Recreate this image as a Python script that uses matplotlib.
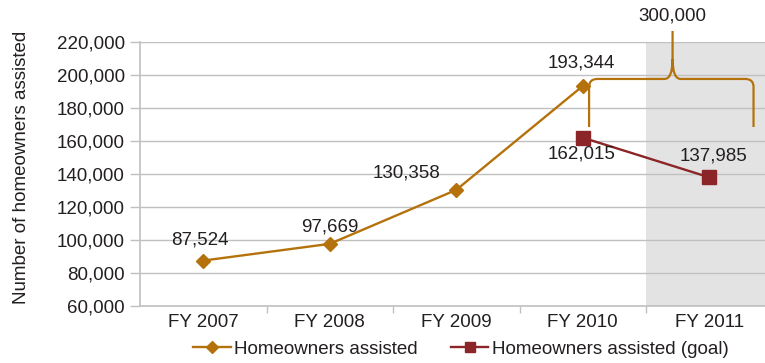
import numpy as np
import matplotlib.pyplot as plt
from matplotlib.path import Path
from matplotlib.patches import PathPatch
from matplotlib.ticker import FuncFormatter

years = ["FY 2007", "FY 2008", "FY 2009", "FY 2010", "FY 2011"]
assisted = [87524, 97669, 130358, 193344]
goal_years = ["FY 2010", "FY 2011"]
goal = [162015, 137985]
combined_label = "300,000"

ORANGE = "#b5720c"
RED = "#8b2528"
GRID = "#c0c0c0"
TEXT = "#231f20"

plt.rcParams["font.family"] = ["Liberation Sans", "DejaVu Sans"]
plt.rcParams["font.size"] = 13.5
plt.rcParams["text.color"] = TEXT

fig = plt.figure(figsize=(7.65, 3.63), dpi=100)
ax = fig.add_axes([140 / 765, 1 - 306 / 363, 632.5 / 765, 264 / 363])

x_all = np.arange(len(years))
x_act = [years.index(y) for y in years[:len(assisted)]]
x_goal = [years.index(y) for y in goal_years]

# projected year shading
ax.axvspan(3.5, 4.5, color="#e3e3e3", zorder=0, lw=0)

ax.plot(x_act, assisted, color=ORANGE, lw=1.7, marker="D", ms=7.5,
        label="Homeowners assisted", zorder=3, clip_on=False)
ax.plot(x_goal, goal, color=RED, lw=1.7, marker="s", ms=10.5,
        label="Homeowners assisted (goal)", zorder=3)

# value labels
offsets = [(-0.03, 12500), (0, 10500), (-0.39, 10500), (-0.01, 14000)]
for xi, v, (dx, dy) in zip(x_act, assisted, offsets):
    ax.text(xi + dx, v + dy, f"{v:,}", ha="center", va="center")
goal_offsets = [(-0.01, -9800), (0.03, 12800)]
for xi, v, (dx, dy) in zip(x_goal, goal, goal_offsets):
    ax.text(xi + dx, v + dy, f"{v:,}", ha="center", va="center")

# curly brace spanning FY 2010 + FY 2011
xl, xc, xr = 3.05, 3.71, 4.35
yb, yh, yt = 168500, 197600, 226700
rx, ry = 0.065, 4800
tx, ty = 0.065, 12000
verts = [
    (xl, yb), (xl, yh - ry), (xl, yh), (xl + rx, yh),
    (xc - tx, yh), (xc, yh), (xc, yh + ty), (xc, yt),
    (xc, yh + ty), (xc, yh), (xc + tx, yh),
    (xr - rx, yh), (xr, yh), (xr, yh - ry), (xr, yb),
]
codes = [
    Path.MOVETO, Path.LINETO, Path.CURVE3, Path.CURVE3,
    Path.LINETO, Path.CURVE3, Path.CURVE3, Path.LINETO,
    Path.MOVETO, Path.CURVE3, Path.CURVE3,
    Path.LINETO, Path.CURVE3, Path.CURVE3, Path.LINETO,
]
brace = PathPatch(Path(verts, codes), fill=False, edgecolor=ORANGE, lw=1.6,
                  clip_on=False, zorder=4)
ax.add_patch(brace)
ax.text(xc, 235800, combined_label, ha="center", va="center")

ax.set_xlim(-0.5, 4.5)
ax.set_ylim(60000, 220000)
ax.set_yticks(np.arange(60000, 220001, 20000))
ax.yaxis.set_major_formatter(FuncFormatter(lambda v, p: f"{int(v):,}"))
ax.set_xticks(x_all)
ax.set_xticklabels(years)
ax.set_xticks(np.arange(0.5, 4.5, 1), minor=True)
ax.tick_params(axis="x", which="major", length=0, pad=6, colors=TEXT)
ax.tick_params(axis="x", which="minor", length=5, color=GRID, width=1)
ax.tick_params(axis="y", length=7, color=GRID, width=1, pad=4, colors=TEXT)
ax.tick_params(axis="y", color=GRID)

ax.grid(axis="y", color=GRID, lw=1)
ax.set_axisbelow(True)
for side in ["top", "right"]:
    ax.spines[side].set_visible(False)
for side in ["left", "bottom"]:
    ax.spines[side].set_color(GRID)
    ax.spines[side].set_linewidth(1.2)

fig.text(22 / 765, 1 - 167 / 363, "Number of homeowners assisted",
         rotation=90, ha="center", va="center")

fig.legend(loc="center", bbox_to_anchor=(461 / 765, 1 - 349 / 363), ncol=2,
           frameon=False, handlelength=2.0, handletextpad=0.2,
           columnspacing=1.75, borderpad=0, markerscale=0.75)

fig.savefig("out.png", dpi=100)
